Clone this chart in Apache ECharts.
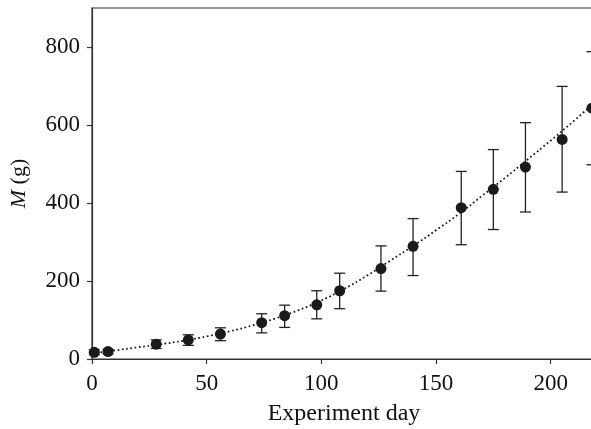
<!DOCTYPE html>
<html><head><meta charset="utf-8">
<script src="https://cdn.jsdelivr.net/npm/echarts@6/dist/echarts.min.js"></script>
<style>html,body{margin:0;padding:0;background:#fff;overflow:hidden}#c{width:608px;height:429px}</style>
</head><body><div id="c"></div>
<script>
// Observed means with error bars
const days  = [1, 7, 28, 42, 56, 74, 84, 98, 108, 126, 140, 161, 175, 189, 205, 218];
const means = [17, 19, 38, 49, 64, 93, 111, 139, 175, 232, 289, 388, 435, 492, 563, 643];
const lower = [11, 13, 27, 35, 47, 67, 81, 103, 129, 174, 214, 293, 332, 377, 428, 498];
const upper = [23, 25, 49, 62, 80, 116, 138, 175, 220, 290, 360, 481, 537, 606, 699, 788];
// Fitted curve
const fitDays   = [0, 10, 20, 30, 40, 50, 60, 70, 80, 90, 100, 110, 120, 130, 140, 150, 160, 170, 180, 190, 200, 210, 220];
const fitValues = [14, 22, 30, 38, 47, 58, 71, 86, 104, 125, 150, 180, 214, 252, 290, 330, 372, 418, 464, 512, 560, 610, 662];
// Tick labels
const xTicks = [0, 50, 100, 150, 200];
const yTicks = [0, 200, 400, 600, 800];

const chart = echarts.init(document.getElementById('c'), null, {renderer: 'canvas'});
const font = 'Liberation Serif';
const axisCol = '#333';
chart.setOption({
  animation: false,
  grid: {left: 92, top: 8, bottom: 70, right: 0, outerBoundsMode: 'none', containLabel: false,
         show: true, borderColor: axisCol, borderWidth: 1.2, backgroundColor: 'transparent'},
  xAxis: {
    type: 'value', min: 0, max: 225, interval: 25,
    name: 'Experiment day', nameLocation: 'middle', nameGap: 43,
    nameTextStyle: {fontFamily: font, fontSize: 24, color: '#111', padding: [0, 12, 0, 0]},
    axisLine: {show: true, onZero: false, lineStyle: {color: axisCol, width: 1.2}},
    axisTick: {show: true, inside: false, length: 5, customValues: xTicks, lineStyle: {color: axisCol, width: 1.2}},
    axisLabel: {show: true, margin: 13, fontFamily: font, fontSize: 23, color: '#111', customValues: xTicks},
    splitLine: {show: false}
  },
  yAxis: {
    type: 'value', min: 0, max: 900, interval: 100,
    name: '{i|M} (g)', nameLocation: 'middle', nameGap: 62, nameRotate: 90,
    nameTextStyle: {fontFamily: font, fontSize: 22, color: '#111', rich: {i: {fontFamily: font, fontStyle: 'italic', fontSize: 22, color: '#111'}}},
    axisLine: {show: true, onZero: false, lineStyle: {color: axisCol, width: 1.2}},
    axisTick: {show: true, inside: false, length: 5, customValues: yTicks, lineStyle: {color: axisCol, width: 1.2}},
    axisLabel: {show: true, margin: 12, fontFamily: font, fontSize: 23, color: '#111', customValues: yTicks},
    splitLine: {show: false}
  },
  series: [
    {
      type: 'line', data: fitDays.map((d, i) => [d, fitValues[i]]),
      smooth: true, symbol: 'none', clip: false,
      lineStyle: {color: '#111', width: 1.7, type: [1.7, 2.6]}, z: 2
    },
    {
      type: 'custom', z: 3, clip: false,
      data: days.map((d, i) => [d, lower[i], upper[i]]),
      renderItem: function (params, api) {
        const lo = api.coord([api.value(0), api.value(1)]);
        const hi = api.coord([api.value(0), api.value(2)]);
        const hw = 5.5;
        const st = {stroke: '#222', lineWidth: 1.3};
        return {type: 'group', children: [
          {type: 'line', shape: {x1: lo[0], y1: lo[1], x2: hi[0], y2: hi[1]}, style: st},
          {type: 'line', shape: {x1: lo[0] - hw, y1: lo[1], x2: lo[0] + hw, y2: lo[1]}, style: st},
          {type: 'line', shape: {x1: hi[0] - hw, y1: hi[1], x2: hi[0] + hw, y2: hi[1]}, style: st}
        ]};
      }
    },
    {
      type: 'scatter', z: 4, symbol: 'circle', symbolSize: 11, clip: false,
      data: days.map((d, i) => [d, means[i]]),
      itemStyle: {color: '#1a1a1a', opacity: 1}
    }
  ]
});
</script>
</body></html>
